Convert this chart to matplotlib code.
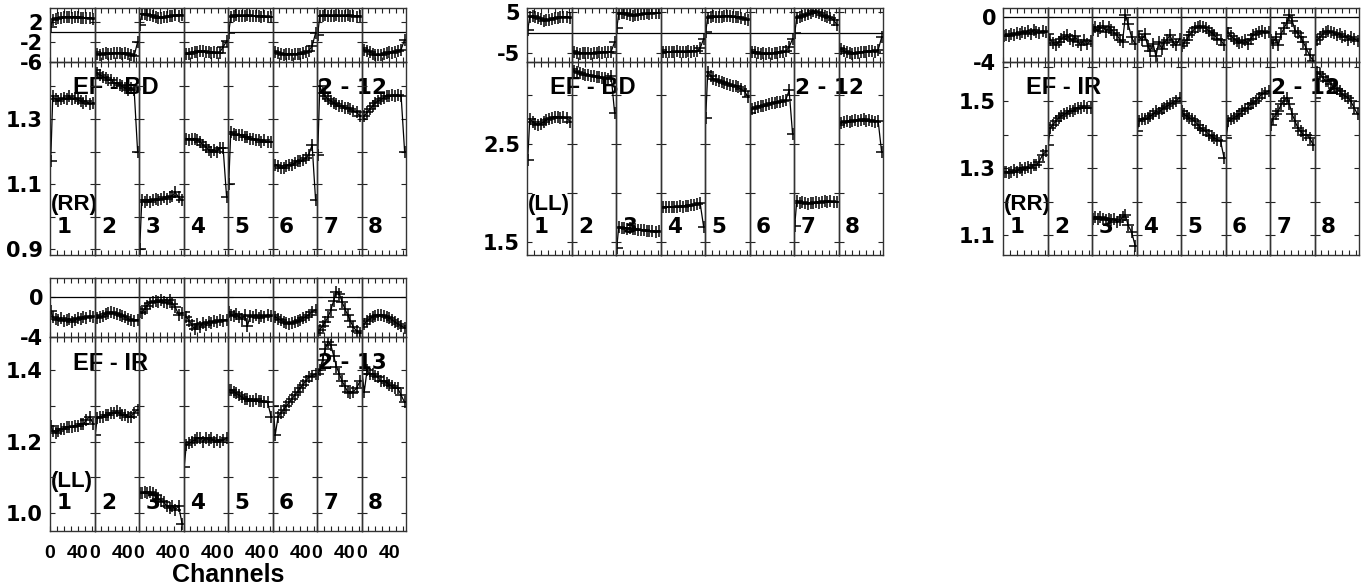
import matplotlib.pyplot as plt

plt.rcParams['font.family'] = ['DejaVu Sans']
plt.rcParams['font.weight'] = 'bold'

# sampled channels inside each IF (64 channels per IF)
channels = [1, 4, 8, 12, 16, 20, 24, 28, 32, 36, 40, 44, 48, 52, 57, 62]
if_names = ['1', '2', '3', '4', '5', '6', '7', '8']

# EF - BD, RR
bd_rr_amp = [
    [1.17, 1.37, 1.36, 1.355, 1.36, 1.365, 1.36, 1.37, 1.36, 1.365, 1.36, 1.355, 1.35, 1.355, 1.345, 1.35],
    [1.45, 1.44, 1.435, 1.43, 1.425, 1.42, 1.42, 1.41, 1.41, 1.405, 1.40, 1.395, 1.39, 1.395, 1.39, 1.20],
    [0.90, 1.05, 1.045, 1.05, 1.045, 1.05, 1.055, 1.05, 1.055, 1.06, 1.055, 1.06, 1.065, 1.075, 1.06, 1.05],
    [1.24, 1.24, 1.235, 1.24, 1.24, 1.235, 1.23, 1.22, 1.215, 1.205, 1.20, 1.205, 1.20, 1.21, 1.21, 1.06],
    [1.10, 1.26, 1.255, 1.25, 1.25, 1.25, 1.245, 1.245, 1.24, 1.24, 1.235, 1.235, 1.23, 1.235, 1.23, 1.23],
    [1.16, 1.16, 1.155, 1.15, 1.15, 1.155, 1.16, 1.16, 1.165, 1.17, 1.17, 1.175, 1.18, 1.19, 1.22, 1.05],
    [1.19, 1.40, 1.38, 1.37, 1.36, 1.355, 1.35, 1.345, 1.34, 1.34, 1.335, 1.335, 1.33, 1.325, 1.32, 1.31],
    [1.30, 1.31, 1.32, 1.33, 1.34, 1.35, 1.355, 1.36, 1.365, 1.37, 1.37, 1.375, 1.37, 1.375, 1.37, 1.20],
]
bd_rr_phase = [
    [1.0, 2.5, 2.7, 2.8, 2.9, 3.0, 3.0, 3.1, 2.9, 3.0, 3.1, 2.9, 2.8, 2.9, 2.8, 2.7],
    [-4.0, -4.4, -4.5, -4.3, -4.2, -4.4, -4.3, -4.2, -4.1, -4.2, -4.3, -4.1, -4.3, -4.6, -4.8, -2.0],
    [1.5, 3.6, 3.7, 3.5, 3.4, 3.2, 3.0, 2.9, 2.9, 3.0, 3.1, 3.2, 3.3, 3.4, 3.3, 3.5],
    [-4.2, -4.4, -4.3, -4.2, -4.0, -3.9, -3.8, -3.8, -3.9, -4.0, -4.1, -4.0, -4.2, -4.1, -3.0, -1.8],
    [-0.2, 3.0, 3.3, 3.4, 3.3, 3.2, 3.3, 3.4, 3.3, 3.2, 3.3, 3.2, 3.1, 3.2, 3.0, 3.1],
    [-3.8, -4.0, -4.2, -4.4, -4.5, -4.4, -4.3, -4.5, -4.4, -4.3, -4.4, -4.2, -4.0, -3.8, -2.8, -0.2],
    [-0.5, 3.2, 3.3, 3.4, 3.3, 3.2, 3.3, 3.4, 3.3, 3.2, 3.3, 3.4, 3.3, 3.2, 3.1, 3.2],
    [-3.2, -3.5, -3.8, -4.0, -4.3, -4.5, -4.6, -4.5, -4.3, -4.2, -4.0, -4.1, -4.0, -3.8, -3.5, -1.5],
]

# EF - BD, LL
bd_ll_amp = [
    [2.34, 2.76, 2.73, 2.71, 2.70, 2.71, 2.73, 2.75, 2.76, 2.77, 2.78, 2.78, 2.77, 2.78, 2.77, 2.73],
    [3.27, 3.25, 3.24, 3.23, 3.22, 3.21, 3.21, 3.20, 3.20, 3.19, 3.19, 3.18, 3.18, 3.17, 3.20, 2.82],
    [1.44, 1.66, 1.65, 1.65, 1.64, 1.645, 1.64, 1.635, 1.63, 1.63, 1.625, 1.62, 1.615, 1.61, 1.60, 1.61],
    [1.85, 1.86, 1.855, 1.86, 1.86, 1.865, 1.86, 1.87, 1.865, 1.87, 1.875, 1.88, 1.88, 1.89, 1.90, 1.66],
    [2.77, 3.24, 3.20, 3.17, 3.16, 3.15, 3.14, 3.13, 3.12, 3.11, 3.10, 3.09, 3.08, 3.06, 3.04, 2.98],
    [2.82, 2.86, 2.87, 2.88, 2.89, 2.89, 2.90, 2.91, 2.92, 2.92, 2.93, 2.93, 2.94, 2.95, 3.05, 2.60],
    [1.67, 1.92, 1.90, 1.91, 1.90, 1.89, 1.90, 1.90, 1.91, 1.90, 1.91, 1.92, 1.91, 1.92, 1.91, 1.91],
    [2.70, 2.72, 2.73, 2.74, 2.73, 2.74, 2.75, 2.74, 2.75, 2.76, 2.74, 2.75, 2.74, 2.73, 2.74, 2.42],
]
bd_ll_phase = [
    [0.5, 3.8, 4.0, 3.7, 3.5, 3.2, 2.8, 2.9, 3.1, 3.3, 3.5, 3.6, 3.7, 3.8, 3.7, 3.6],
    [-4.5, -4.8, -5.0, -5.1, -5.0, -4.9, -5.0, -5.1, -5.0, -4.9, -4.8, -4.9, -4.7, -4.8, -4.6, -2.3],
    [1.0, 4.4, 4.7, 4.6, 4.4, 4.2, 4.0, 4.1, 4.3, 4.4, 4.5, 4.6, 4.5, 4.7, 4.6, 4.8],
    [-4.3, -4.6, -4.8, -4.7, -4.6, -4.7, -4.5, -4.6, -4.7, -4.6, -4.5, -4.6, -4.4, -4.5, -3.8, -1.5],
    [0.2, 3.6, 3.8, 3.9, 3.8, 3.7, 3.8, 3.9, 4.0, 3.9, 3.8, 3.7, 3.8, 3.6, 3.3, 3.0],
    [-4.3, -4.6, -4.8, -5.0, -5.1, -5.0, -5.2, -5.0, -5.1, -4.9, -5.0, -4.8, -4.7, -4.5, -3.5, -1.5],
    [-0.2, 3.6, 3.8, 4.0, 4.2, 4.4, 4.8, 5.2, 5.0, 4.6, 4.3, 4.0, 3.8, 3.5, 3.0, 1.8],
    [-3.8, -4.0, -4.4, -4.8, -5.0, -5.2, -5.0, -4.9, -4.8, -4.7, -4.6, -4.5, -4.4, -4.6, -4.2, -1.2],
]

# EF - IR, RR
ir_rr_amp = [
    [1.29, 1.29, 1.285, 1.29, 1.295, 1.29, 1.30, 1.295, 1.30, 1.305, 1.30, 1.31, 1.31, 1.32, 1.34, 1.35],
    [1.37, 1.42, 1.43, 1.44, 1.45, 1.455, 1.46, 1.465, 1.47, 1.47, 1.475, 1.48, 1.48, 1.485, 1.48, 1.48],
    [1.15, 1.155, 1.15, 1.155, 1.15, 1.145, 1.15, 1.145, 1.15, 1.14, 1.145, 1.155, 1.16, 1.13, 1.11, 1.07],
    [1.41, 1.44, 1.445, 1.445, 1.45, 1.455, 1.46, 1.47, 1.465, 1.475, 1.48, 1.485, 1.49, 1.495, 1.50, 1.51],
    [1.47, 1.46, 1.455, 1.45, 1.445, 1.44, 1.43, 1.42, 1.415, 1.41, 1.40, 1.395, 1.39, 1.385, 1.38, 1.33],
    [1.39, 1.44, 1.445, 1.45, 1.455, 1.46, 1.47, 1.475, 1.48, 1.49, 1.495, 1.50, 1.51, 1.52, 1.525, 1.53],
    [1.43, 1.445, 1.46, 1.47, 1.49, 1.50, 1.51, 1.49, 1.46, 1.44, 1.42, 1.41, 1.40, 1.40, 1.39, 1.37],
    [1.51, 1.585, 1.58, 1.57, 1.56, 1.56, 1.55, 1.54, 1.535, 1.53, 1.52, 1.515, 1.51, 1.50, 1.48, 1.46],
]
ir_rr_phase = [
    [-1.7, -1.6, -1.7, -1.5, -1.6, -1.4, -1.5, -1.3, -1.4, -1.2, -1.5, -1.1, -1.3, -1.4, -1.2, -1.3],
    [-1.5, -2.0, -2.3, -2.5, -2.2, -1.9, -1.8, -1.6, -1.9, -2.1, -1.7, -2.2, -2.5, -2.0, -2.4, -2.1],
    [-1.1, -0.9, -1.2, -1.0, -0.8, -1.3, -0.9, -1.1, -1.4, -1.6, -2.0, -2.2, 0.2, -0.6, -1.8, -2.4],
    [-1.2, -1.8, -2.0, -1.5, -2.6, -3.0, -2.4, -3.5, -2.2, -2.8, -2.3, -2.0, -1.6, -2.2, -2.5, -1.9],
    [-2.6, -2.3, -2.0, -1.6, -1.3, -1.0, -0.9, -0.8, -0.9, -1.0, -1.2, -1.4, -1.6, -1.9, -2.0, -2.5],
    [-1.0, -1.4, -1.7, -1.9, -2.1, -2.3, -2.2, -2.0, -2.4, -1.9, -1.6, -1.5, -1.3, -1.2, -1.4, -1.3],
    [-2.0, -2.3, -1.8, -2.5, -1.5, -1.0, -0.5, 0.2, -0.3, -1.2, -1.4, -1.8, -2.2, -2.8, -3.4, -3.9],
    [-2.4, -2.0, -1.8, -1.5, -1.3, -1.2, -1.3, -1.4, -1.6, -1.5, -1.8, -1.7, -2.0, -1.8, -1.9, -2.1],
]

# EF - IR, LL
ir_ll_amp = [
    [1.245, 1.23, 1.225, 1.23, 1.235, 1.235, 1.24, 1.24, 1.24, 1.245, 1.245, 1.25, 1.25, 1.26, 1.27, 1.25],
    [1.22, 1.265, 1.27, 1.27, 1.275, 1.275, 1.28, 1.28, 1.285, 1.28, 1.275, 1.275, 1.27, 1.27, 1.28, 1.29],
    [1.055, 1.055, 1.06, 1.055, 1.06, 1.055, 1.05, 1.04, 1.035, 1.03, 1.02, 1.015, 1.02, 1.01, 1.02, 0.97],
    [1.13, 1.19, 1.195, 1.20, 1.205, 1.21, 1.21, 1.20, 1.21, 1.205, 1.21, 1.20, 1.205, 1.20, 1.205, 1.21],
    [1.345, 1.345, 1.34, 1.335, 1.33, 1.325, 1.32, 1.32, 1.315, 1.315, 1.32, 1.315, 1.315, 1.31, 1.31, 1.27],
    [1.30, 1.22, 1.27, 1.28, 1.29, 1.30, 1.31, 1.32, 1.33, 1.34, 1.35, 1.36, 1.37, 1.38, 1.385, 1.39],
    [1.39, 1.40, 1.43, 1.46, 1.48, 1.47, 1.44, 1.41, 1.39, 1.37, 1.355, 1.34, 1.335, 1.34, 1.35, 1.37],
    [1.39, 1.34, 1.40, 1.39, 1.39, 1.385, 1.38, 1.37, 1.37, 1.365, 1.36, 1.355, 1.35, 1.35, 1.33, 1.31],
]
ir_ll_phase = [
    [-1.4, -2.0, -2.2, -2.3, -2.1, -2.4, -2.3, -2.2, -2.5, -2.3, -2.1, -2.2, -2.0, -2.1, -1.9, -2.0],
    [-1.8, -2.1, -2.0, -1.9, -1.7, -1.6, -1.5, -1.6, -1.7, -1.8, -1.9, -2.0, -2.2, -2.3, -2.4, -2.3],
    [-1.5, -1.6, -1.2, -0.9, -0.6, -0.5, -0.4, -0.5, -0.3, -0.5, -0.6, -0.3, -0.7, -1.0, -1.8, -1.6],
    [-1.5, -2.0, -2.4, -2.8, -3.2, -2.7, -3.0, -2.6, -2.8, -2.5, -2.6, -2.4, -2.5, -2.3, -2.4, -2.3],
    [-1.5, -1.8, -1.9, -1.7, -2.0, -2.2, -1.8, -2.9, -1.9, -2.0, -1.8, -2.1, -1.9, -2.0, -1.8, -1.9],
    [-1.8, -2.0, -2.2, -2.3, -2.5, -2.6, -2.7, -2.6, -2.5, -2.4, -2.3, -2.1, -2.0, -1.8, -1.5, -1.3],
    [-3.6, -3.3, -2.9, -2.5, -2.0, -1.3, -0.4, 0.5, 0.3, -0.5, -1.2, -1.8, -2.4, -3.0, -3.4, -3.6],
    [-3.0, -2.7, -2.4, -2.2, -2.0, -1.9, -1.8, -1.8, -1.9, -2.0, -2.1, -2.3, -2.5, -2.7, -2.9, -3.1],
]

W, H = 1366, 587
fig = plt.figure(figsize=(W / 100, H / 100), dpi=100)
label_font = ['Liberation Sans', 'DejaVu Sans']


def rect(x0, x1, y0, y1):
    return [x0 / W, 1 - y1 / H, (x1 - x0) / W, (y1 - y0) / H]


def style(ax, lim, ticks, labels, first, xlabels):
    ax.set_facecolor('none')
    ax.set_xlim(0, 64)
    ax.set_ylim(*lim)
    ax.set_xticks([0, 40])
    ax.set_xticks([10, 20, 30, 50, 60], minor=True)
    ax.set_xticklabels(['0', '40'], family=label_font)
    ax.set_yticks(ticks)
    ax.set_yticklabels(labels)
    ax.tick_params(which='both', direction='in', top=True, right=True,
                   length=3.5, width=0.8, color='#222222')
    ax.tick_params(axis='y', pad=5, labelleft=first, labelsize=15)
    ax.tick_params(axis='x', pad=10, labelbottom=xlabels, labelsize=14)
    for s in ax.spines.values():
        s.set_color('#333333')
        s.set_linewidth(1.0)


def panel(x0, x1, ytop, ydiv, ybot, amp, phase, amp_lim, amp_ticks, amp_labels,
          ph_lim, ph_ticks, ph_labels, baseline, times, corr, xlabels=False):
    bg = fig.add_axes(rect(x0, x1, ytop, ybot))
    bg.axis('off')
    tr = fig.transFigure
    bg.text((x0 + 23) / W, 1 - (ydiv + 26) / H, baseline, transform=tr,
            family=label_font, fontsize=17, fontweight='bold', ha='left', va='center')
    bg.text((x1 - 19) / W, 1 - (ydiv + 26) / H, times, transform=tr,
            fontsize=15.5, fontweight='bold', ha='right', va='center')
    bg.text((x0 + 1) / W, 1 - (ybot - 50) / H, corr, transform=tr,
            family=label_font, fontsize=16, fontweight='bold', ha='left', va='center')
    w = (x1 - x0) / 8
    for k in range(8):
        left = x0 + k * w
        bg.text((left + 14) / W, 1 - (ybot - 28) / H, if_names[k], transform=tr,
                fontsize=15.5, fontweight='bold', ha='center', va='center')
        axp = fig.add_axes(rect(left, left + w, ytop, ydiv))
        style(axp, ph_lim, ph_ticks, ph_labels, k == 0, False)
        axp.axhline(0, color='black', lw=0.9)
        axp.plot(channels, phase[k], color='black', lw=0.9, marker='+',
                 ms=9, mew=1.1)
        axa = fig.add_axes(rect(left, left + w, ydiv, ybot))
        style(axa, amp_lim, amp_ticks, amp_labels, k == 0, xlabels)
        axa.plot(channels, amp[k], color='black', lw=0.9, marker='+',
                 ms=9, mew=1.1)
    return bg


panel(50, 406, 8, 62, 255, bd_rr_amp, bd_rr_phase, (0.8825, 1.475),
      [0.9, 1.0, 1.1, 1.2, 1.3, 1.4], ['0.9', '', '1.1', '', '1.3', ''],
      (-6, 4.8), [-6, -2, 2], ['-6', '-2', '2'], 'EF - BD', '2 - 12', '(RR)')
panel(527, 883, 8, 62, 255, bd_ll_amp, bd_ll_phase, (1.37, 3.34),
      [1.5, 2.0, 2.5, 3.0], ['1.5', '', '2.5', ''],
      (-7.09, 5.89), [-5, 5], ['-5', '5'], 'EF - BD', '2 - 12', '(LL)')
panel(1003, 1359, 8, 62, 255, ir_rr_amp, ir_rr_phase, (1.042, 1.616),
      [1.1, 1.2, 1.3, 1.4, 1.5, 1.6], ['1.1', '', '1.3', '', '1.5', ''],
      (-4, 0.83), [-4, 0], ['-4', '0'], 'EF - IR', '2 - 12', '(RR)')
bg = panel(50, 406, 278, 337, 531, ir_ll_amp, ir_ll_phase, (0.95, 1.493),
           [1.0, 1.1, 1.2, 1.3, 1.4], ['1.0', '', '1.2', '', '1.4'],
           (-4, 1.84), [-4, 0], ['-4', '0'], 'EF - IR', '2 - 13', '(LL)', True)
bg.text(228 / W, 1 - 586.5 / H, 'Channels', transform=fig.transFigure,
        family=label_font, fontsize=18, fontweight='bold', ha='center', va='bottom')

fig.savefig('out.png', dpi=100)
